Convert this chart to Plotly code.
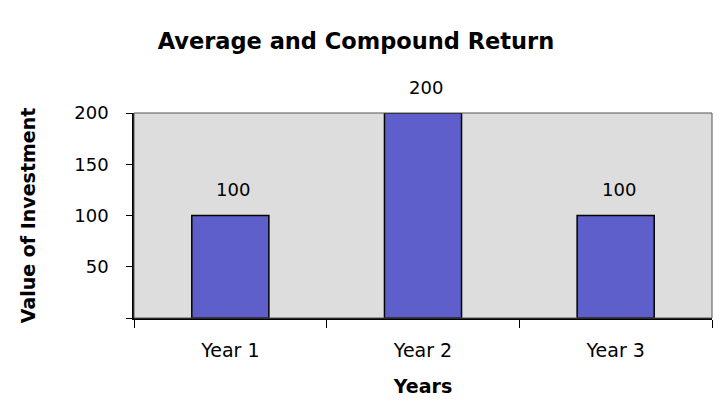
import plotly.graph_objects as go

categories = ["Year 1", "Year 2", "Year 3"]
values = [100, 200, 100]
ytick_vals = [0, 50, 100, 150, 200]
ytick_text = ["", "50", "100", "150", "200"]

FONT = "DejaVu Sans"

fig = go.Figure()
fig.add_trace(go.Bar(
    x=categories, y=values,
    marker=dict(color="#5f5fcc", line=dict(color="#000000", width=1.5)),
    width=0.4,
))
for c, v in zip(categories, values):
    fig.add_annotation(x=c, y=v, text=str(v), showarrow=False, yanchor="middle",
                       yshift=26, xshift=3, font=dict(family=FONT, size=18, color="#000"))
fig.update_layout(
    width=713, height=397,
    margin=dict(l=126, r=9, t=105, b=87),
    paper_bgcolor="#ffffff", plot_bgcolor="#dddddd",
    showlegend=False,
    font=dict(family=FONT, size=18, color="#000"),
    title=dict(text="<b>Average and Compound Return</b>", x=0.488, xanchor="center",
               y=0.916, yanchor="middle", font=dict(size=22.5)),
)
fig.update_xaxes(
    showline=True, linecolor="#000", linewidth=1.5, mirror=False,
    ticks="outside", tickson="boundaries", ticklen=8, tickcolor="#000",
    showgrid=False, ticklabelstandoff=14,
    title=dict(text="<b>Years</b>", font=dict(size=19), standoff=20),
    tickfont=dict(size=19),
)
fig.update_yaxes(
    range=[0, 200], tickvals=ytick_vals, ticktext=ytick_text,
    showline=True, linecolor="#000", linewidth=1.5,
    ticks="outside", ticklen=6, tickcolor="#000",
    showgrid=False, zeroline=False, ticklabelstandoff=14,
    title=dict(text="<b>Value of Investment</b>", font=dict(size=19), standoff=34),
    tickfont=dict(size=18),
)
fig.add_shape(type="rect", xref="paper", yref="paper", x0=0, y0=0, x1=1, y1=1,
              line=dict(color="#555555", width=1), layer="above")
fig.write_html("out.html")
